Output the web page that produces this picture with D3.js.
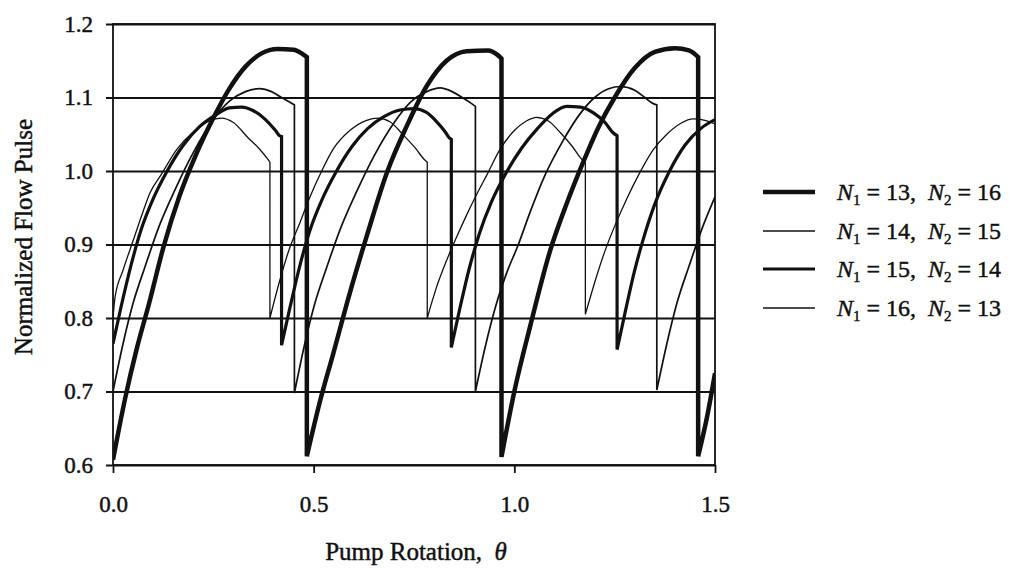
<!DOCTYPE html>
<html><head><meta charset="utf-8">
<script src="https://cdn.jsdelivr.net/npm/d3@7"></script>
<style>
body{margin:0;background:#fff}
svg text{font-family:"Liberation Serif","Times New Roman",serif;fill:#111;white-space:pre;stroke:#111;stroke-width:0.45px}
</style>
</head><body>
<svg id="chart" width="1009" height="568"></svg>
<script>
// ---- data ----
const xTicks = [0.0, 0.5, 1.0, 1.5];
const yTicks = [0.6, 0.7, 0.8, 0.9, 1.0, 1.1, 1.2];
const seriesN1 = [13, 14, 15, 16];
const seriesN2 = [16, 15, 14, 13];

const thetaN13 = [0.000,0.030,0.060,0.090,0.125,0.165,0.205,0.250,0.290,0.330,0.370,0.410,0.450,0.470,0.483,
  0.483,0.515,0.549,0.590,0.632,0.682,0.731,0.781,0.831,0.881,0.935,0.958,0.968,
  0.968,1.000,1.040,1.090,1.130,1.170,1.210,1.250,1.300,1.350,1.400,1.435,1.452,1.458,
  1.458,1.480,1.500];
const flowN13 = [0.607,0.690,0.760,0.820,0.895,0.965,1.020,1.072,1.112,1.142,1.160,1.166,1.165,1.160,1.155,
  0.612,0.685,0.752,0.834,0.911,0.997,1.060,1.115,1.150,1.163,1.164,1.158,1.153,
  0.611,0.700,0.790,0.893,0.955,1.010,1.060,1.100,1.140,1.162,1.167,1.164,1.158,1.155,
  0.612,0.665,0.725];

const thetaN14 = [0.000,0.025,0.050,0.080,0.115,0.155,0.200,0.250,0.290,0.330,0.365,0.395,0.420,0.440,0.452,
  0.452,0.477,0.502,0.532,0.567,0.607,0.652,0.702,0.742,0.782,0.815,0.845,0.870,0.890,0.903,
  0.903,0.928,0.953,0.980,1.010,1.040,1.077,1.120,1.160,1.200,1.235,1.265,1.300,1.325,1.345,1.355,
  1.355,1.380,1.405,1.435,1.470,1.500];
const flowN14 = [0.700,0.765,0.820,0.870,0.925,0.975,1.025,1.070,1.095,1.108,1.112,1.108,1.100,1.094,1.090,
  0.698,0.763,0.818,0.868,0.922,0.972,1.022,1.067,1.094,1.108,1.113,1.108,1.100,1.093,1.088,
  0.700,0.762,0.815,0.860,0.900,0.945,0.995,1.040,1.075,1.100,1.112,1.115,1.110,1.100,1.092,1.090,
  0.702,0.765,0.820,0.870,0.925,0.965];

const thetaN15 = [0.000,0.020,0.045,0.070,0.100,0.135,0.175,0.215,0.255,0.290,0.320,0.350,0.380,0.405,0.415,0.420,
  0.420,0.440,0.465,0.490,0.520,0.555,0.595,0.635,0.675,0.715,0.750,0.780,0.805,0.828,0.838,0.843,
  0.843,0.863,0.888,0.913,0.943,0.977,1.018,1.058,1.095,1.130,1.165,1.200,1.226,1.246,1.256,
  1.256,1.275,1.300,1.320,1.350,1.385,1.425,1.465,1.500];
const flowN15 = [0.765,0.815,0.872,0.920,0.962,1.000,1.035,1.060,1.076,1.086,1.087,1.082,1.070,1.055,1.048,1.047,
  0.763,0.812,0.870,0.918,0.960,0.998,1.033,1.058,1.074,1.083,1.085,1.080,1.068,1.053,1.045,1.043,
  0.760,0.810,0.868,0.915,0.958,0.995,1.031,1.058,1.078,1.088,1.087,1.078,1.066,1.052,1.048,
  0.757,0.805,0.865,0.905,0.955,0.998,1.035,1.058,1.070];

const thetaN16 = [0.000,0.005,0.025,0.050,0.075,0.092,0.120,0.160,0.200,0.240,0.270,0.300,0.337,0.365,0.387,0.391,
  0.391,0.415,0.440,0.466,0.491,0.520,0.549,0.590,0.632,0.660,0.690,0.725,0.755,0.775,0.783,
  0.783,0.805,0.831,0.856,0.881,0.906,0.931,0.965,1.000,1.030,1.055,1.085,1.115,1.145,1.168,1.177,
  1.177,1.200,1.225,1.250,1.280,1.310,1.345,1.380,1.415,1.445,1.475,1.500];
const flowN16 = [0.800,0.828,0.865,0.905,0.945,0.970,0.995,1.030,1.053,1.068,1.072,1.066,1.045,1.030,1.015,1.012,
  0.800,0.850,0.895,0.930,0.965,1.000,1.030,1.055,1.069,1.072,1.067,1.048,1.030,1.016,1.012,
  0.800,0.840,0.878,0.910,0.940,0.968,0.994,1.030,1.055,1.068,1.073,1.068,1.052,1.033,1.016,1.012,
  0.805,0.848,0.890,0.925,0.962,0.995,1.028,1.050,1.065,1.071,1.069,1.064];

const seriesTheta = [thetaN13, thetaN14, thetaN15, thetaN16];
const seriesFlow = [flowN13, flowN14, flowN15, flowN16];

// ---- styles ----
const lineWidths = [4.5, 1.7, 3.2, 1.3];
const ink = "#111";

const svg = d3.select("#chart");
const pLeft = 113, pRight = 715, pTop = 24, pBottom = 465;

const x = d3.scaleLinear().domain([0, 1.5]).range([pLeft, pRight]);
const y = d3.scaleLinear().domain([0.6, 1.2]).range([pBottom, pTop]);

svg.append("defs").append("clipPath").attr("id", "plotclip")
  .append("rect").attr("x", pLeft).attr("y", pTop - 5).attr("width", pRight - pLeft).attr("height", pBottom - pTop + 10);

// y axis with full-width grid lines
const gy = svg.append("g").attr("transform", `translate(${pLeft},0)`)
  .call(d3.axisLeft(y).tickValues(yTicks).tickSize(-(pRight - pLeft)).tickPadding(20).tickFormat(d3.format(".1f")));
gy.select(".domain").remove();
gy.selectAll(".tick line").attr("x1", -7).attr("stroke", ink).attr("stroke-width", 1.8);
gy.selectAll(".tick text").attr("font-size", 23).attr("fill", ink).style("font-family", "'Liberation Serif',serif");

// x axis
const gx = svg.append("g").attr("transform", `translate(0,${pBottom})`)
  .call(d3.axisBottom(x).tickValues(xTicks).tickSize(8).tickPadding(23).tickFormat(d3.format(".1f")));
gx.select(".domain").remove();
gx.selectAll(".tick line").attr("stroke", ink).attr("stroke-width", 1.8);
gx.selectAll(".tick text").attr("font-size", 23).attr("fill", ink).style("font-family", "'Liberation Serif',serif");

// frame
svg.append("rect").attr("x", pLeft).attr("y", pTop).attr("width", pRight - pLeft).attr("height", pBottom - pTop)
  .attr("fill", "none").attr("stroke", ink).attr("stroke-width", 1.8);

// series
const lineGen = d3.line().x(d => x(d[0])).y(d => y(d[1])).curve(d3.curveMonotoneX);
const plot = svg.append("g").attr("clip-path", "url(#plotclip)");
seriesTheta.forEach((th, si) => {
  const fl = seriesFlow[si];
  const segs = [];
  let cur = [];
  th.forEach((t, i) => {
    if (i > 0 && t === th[i - 1]) { segs.push(cur); cur = []; }
    cur.push([t, fl[i]]);
  });
  segs.push(cur);
  let dStr = "";
  segs.forEach((s, k) => {
    let p = lineGen(s);
    if (k > 0) p = "L" + p.slice(1);
    dStr += p;
  });
  plot.append("path").attr("d", dStr).attr("fill", "none").attr("stroke", ink)
    .attr("stroke-width", lineWidths[si]).attr("stroke-miterlimit", 3);
});

// axis titles
svg.append("text").attr("transform", "translate(32,237) rotate(-90)").attr("text-anchor", "middle")
  .attr("font-size", 25).text("Normalized Flow Pulse");
const xt = svg.append("text").attr("x", 416).attr("y", 560).attr("text-anchor", "middle").attr("font-size", 25);
xt.append("tspan").text("Pump Rotation,  ");
xt.append("tspan").attr("font-style", "italic").text("θ");

// legend
const legendY = [192, 231, 269, 308];
seriesN1.forEach((n1, i) => {
  const ly = legendY[i];
  svg.append("line").attr("x1", 763).attr("x2", 815).attr("y1", ly).attr("y2", ly)
    .attr("stroke", ink).attr("stroke-width", lineWidths[i]);
  const t = svg.append("text").attr("x", 837).attr("y", ly + 8).attr("font-size", 24);
  t.append("tspan").attr("font-style", "italic").text("N");
  t.append("tspan").attr("font-size", 15).attr("dy", 5).text("1");
  t.append("tspan").attr("dy", -5).text(" = " + n1 + ",  ");
  t.append("tspan").attr("font-style", "italic").text("N");
  t.append("tspan").attr("font-size", 15).attr("dy", 5).text("2");
  t.append("tspan").attr("dy", -5).text(" = " + seriesN2[i]);
});
</script>
</body></html>
